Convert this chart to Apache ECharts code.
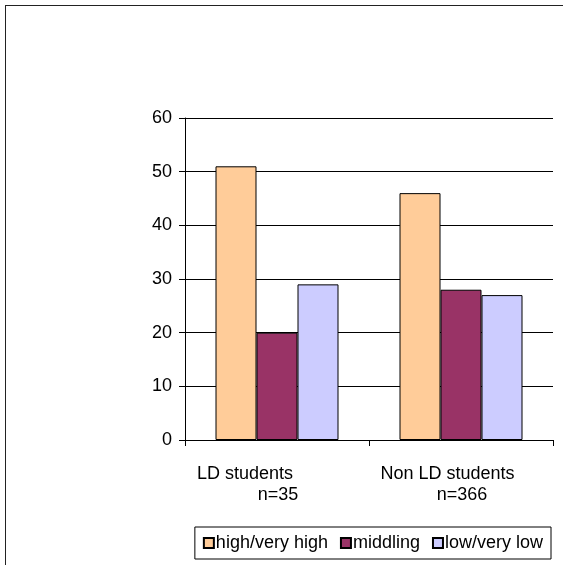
<!DOCTYPE html>
<html>
<head>
<meta charset="utf-8">
<script src="https://cdn.jsdelivr.net/npm/echarts@6/dist/echarts.min.js"></script>
<style>
  html, body { margin: 0; padding: 0; background: #fff; }
  #frame { position: absolute; left: 5px; top: 5px; width: 600px; height: 600px; border: 1.5px solid #222; box-sizing: border-box; }
  #chart { position: absolute; left: 0; top: 0; width: 563px; height: 565px; }
</style>
</head>
<body>
<div id="frame"></div>
<div id="chart"></div>
<script>
// Student groups and their sample sizes
const groups = ['LD students', 'Non LD students'];
const sampleSizes = ['n=35', 'n=366'];

// Share of responses per rating band (%)
const highVeryHigh = [51, 46];
const middling = [20, 28];
const lowVeryLow = [29, 27];

const seriesNames = ['high/very high', 'middling', 'low/very low'];
const seriesColors = ['#FFCC99', '#993366', '#CCCCFF'];

const yTicks = { min: 0, max: 60, interval: 10 };

const font = 'Liberation Sans, Arial, sans-serif';
const chart = echarts.init(document.getElementById('chart'), null, { renderer: 'canvas' });

const makeSeries = (name, data, color) => ({
  name, type: 'bar', data,
  barWidth: 41, barGap: '0%',
  itemStyle: { color, borderColor: '#000', borderWidth: 1 },
  emphasis: { disabled: true }
});

chart.setOption({
  animation: false,
  backgroundColor: 'transparent',
  grid: { left: 185, right: 10, top: 118, bottom: 125, containLabel: false },
  xAxis: {
    type: 'category',
    data: groups,
    axisLine: { lineStyle: { color: '#000', width: 1 } },
    axisTick: { show: true, interval: 0, length: 6, lineStyle: { color: '#000' } },
    axisLabel: {
      interval: 0, margin: 24,
      formatter: (v, i) => (i === 0 ? '{a|' : '{b|') + v + '}\n{n|' + sampleSizes[i] + '}',
      rich: {
        a: { fontFamily: font, fontSize: 18, color: '#000', lineHeight: 21, padding: [0, 64, 0, 0] },
        b: { fontFamily: font, fontSize: 18, color: '#000', lineHeight: 21, padding: [0, 27, 0, 0] },
        n: { fontFamily: font, fontSize: 18, color: '#000', lineHeight: 21, padding: [0, 0, 0, 2] }
      }
    }
  },
  yAxis: {
    type: 'value',
    min: yTicks.min, max: yTicks.max, interval: yTicks.interval,
    axisLine: { show: true, lineStyle: { color: '#000', width: 1 } },
    axisTick: { show: true, length: 6, lineStyle: { color: '#000' } },
    axisLabel: { fontFamily: font, fontSize: 18, color: '#000', margin: 13 },
    splitLine: { show: true, lineStyle: { color: '#000', width: 1 } }
  },
  legend: {
    data: seriesNames,
    right: 12, top: 527,
    icon: 'rect', itemWidth: 10, itemHeight: 10, itemGap: 12,
    padding: [7, 8, 7, 8],
    borderColor: '#000', borderWidth: 1,
    textStyle: { fontFamily: font, fontSize: 18, color: '#000', padding: [0, 0, 0, -3] },
    selectedMode: false
  },
  series: [
    makeSeries(seriesNames[0], highVeryHigh, seriesColors[0]),
    makeSeries(seriesNames[1], middling, seriesColors[1]),
    makeSeries(seriesNames[2], lowVeryLow, seriesColors[2])
  ]
});
</script>
</body>
</html>
